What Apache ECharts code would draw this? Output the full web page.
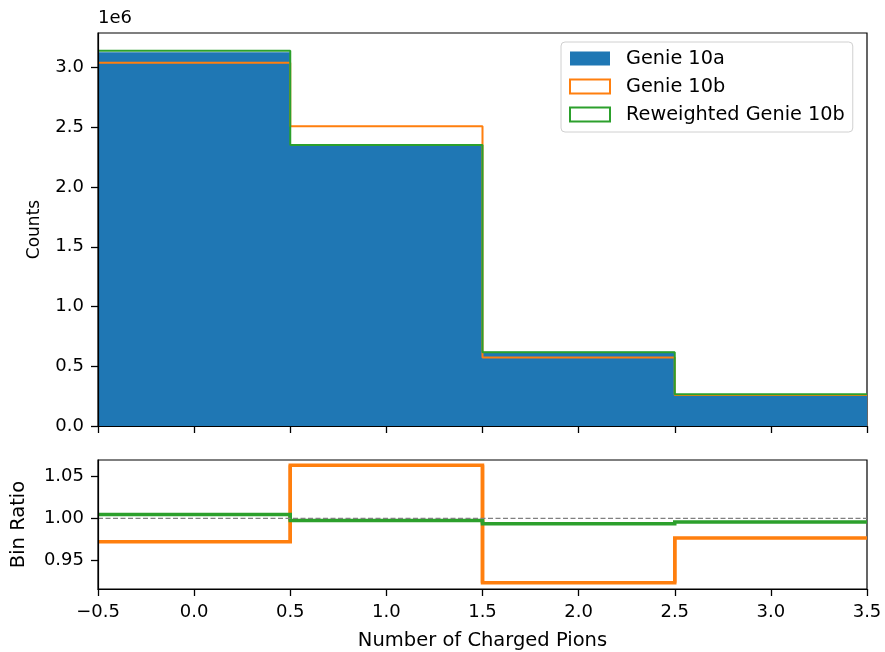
<!DOCTYPE html>
<html>
<head>
<meta charset="utf-8">
<script src="https://cdn.jsdelivr.net/npm/echarts@6/dist/echarts.min.js"></script>
<style>
  html, body { margin: 0; padding: 0; background: #fff; }
  #chart { width: 885px; height: 652px; }
</style>
</head>
<body>
<div id="chart"></div>
<script>
// Bin edges for the charged pion multiplicity histogram
const binEdges = [-0.5, 0.5, 1.5, 2.5, 3.5];
// Event counts per bin
const genie10a = [3.128e6, 2.359e6, 0.621e6, 0.266e6];
const genie10b = [3.040e6, 2.508e6, 0.573e6, 0.260e6];
const reweightedGenie10b = [3.141e6, 2.352e6, 0.617e6, 0.265e6];
// Bin ratios relative to Genie 10a
const ratioGenie10b = [0.972, 1.0635, 0.923, 0.9767];
const ratioReweighted = [1.0047, 0.9976, 0.9936, 0.9956];
// Tick values
const countTicks = [0, 0.5e6, 1.0e6, 1.5e6, 2.0e6, 2.5e6, 3.0e6];
const ratioTicks = [0.95, 1.00, 1.05];
const xTicks = [-0.5, 0.0, 0.5, 1.0, 1.5, 2.0, 2.5, 3.0, 3.5];

const FONT = 'DejaVu Sans';
const BLUE = '#1f77b4', ORANGE = '#ff7f0e', GREEN = '#2ca02c';

// Histogram outline: a flat top over each bin, joined by vertical edges
function stepLine(vals) {
  const pts = [];
  vals.forEach((v, i) => {
    pts.push([binEdges[i], v]);
    pts.push([binEdges[i + 1], v]);
  });
  return pts;
}
// One record per bin: [left edge, right edge, value, previous value, next value]
function binRecords(vals) {
  return vals.map((v, i) => [
    binEdges[i], binEdges[i + 1], v,
    i > 0 ? vals[i - 1] : v,
    i < vals.length - 1 ? vals[i + 1] : v
  ]);
}
// Draws a bin's flat top plus the vertical joins to its neighbours
function stepRenderer(color, width) {
  return function (params, api) {
    const x0 = api.value(0), x1 = api.value(1), y = api.value(2);
    const yPrev = api.value(3), yNext = api.value(4);
    return {
      type: 'polyline',
      shape: { points: [api.coord([x0, yPrev]), api.coord([x0, y]), api.coord([x1, y]), api.coord([x1, yNext])] },
      style: { stroke: color, lineWidth: width, fill: null, lineJoin: 'miter' }
    };
  };
}
const fmtX = v => v.toFixed(1).replace('-', '\u2212');

const chart = echarts.init(document.getElementById('chart'), null, { renderer: 'canvas' });

const makeTick = vals => ({ show: true, length: 7, customValues: vals, lineStyle: { color: '#000', width: 1.3 } });
const makeLabel = (vals, fmt) => ({ show: true, customValues: vals, formatter: fmt, margin: 14, color: '#000', fontSize: 18, fontFamily: FONT });
const makeSpine = () => ({ show: true, onZero: false, lineStyle: { color: '#000', width: 1.2 } });

chart.setOption({
  animation: false,
  backgroundColor: '#fff',
  textStyle: { fontFamily: FONT },
  grid: [
    { left: 98, right: 18, top: 33, height: 393, show: true, borderColor: '#000', borderWidth: 1.2 },
    { left: 98, right: 18, top: 460, height: 130, show: true, borderColor: '#000', borderWidth: 1.2 }
  ],
  xAxis: [
    {
      type: 'value', gridIndex: 0, min: -0.5, max: 3.5, interval: 0.5, z: 5,
      axisLine: makeSpine(), splitLine: { show: false },
      axisTick: makeTick(xTicks), axisLabel: { show: false }
    },
    {
      type: 'value', gridIndex: 1, min: -0.5, max: 3.5, interval: 0.5, z: 5,
      axisLine: makeSpine(), splitLine: { show: false },
      axisTick: makeTick(xTicks), axisLabel: makeLabel(xTicks, fmtX),
      name: 'Number of Charged Pions', nameLocation: 'middle', nameGap: 42,
      nameTextStyle: { color: '#000', fontSize: 19.5, fontFamily: FONT }
    }
  ],
  yAxis: [
    {
      type: 'value', gridIndex: 0, min: 0, max: 3.289e6, z: 5,
      axisLine: makeSpine(), splitLine: { show: false },
      axisTick: makeTick(countTicks), axisLabel: makeLabel(countTicks, v => (v / 1e6).toFixed(1)),
      name: 'Counts', nameLocation: 'middle', nameGap: 55, nameRotate: 90,
      nameTextStyle: { color: '#000', fontSize: 17, fontFamily: FONT }
    },
    {
      type: 'value', gridIndex: 1, min: 0.9156, max: 1.0698, z: 5,
      axisLine: makeSpine(), splitLine: { show: false },
      axisTick: makeTick(ratioTicks), axisLabel: makeLabel(ratioTicks, v => v.toFixed(2)),
      name: 'Bin Ratio', nameLocation: 'middle', nameGap: 69, nameRotate: 90,
      nameTextStyle: { color: '#000', fontSize: 19.5, fontFamily: FONT }
    }
  ],
  legend: {
    orient: 'vertical', left: 561, top: 42,
    padding: [7, 8, 8, 8], itemWidth: 40, itemHeight: 14, itemGap: 9,
    backgroundColor: '#fff', borderColor: '#d0d0d0', borderWidth: 1, borderRadius: 4,
    textStyle: { color: '#000', fontSize: 19.3, fontFamily: FONT, padding: [0, 0, 0, 11] },
    data: [
      { name: 'Genie 10a', icon: 'rect', itemStyle: { color: BLUE, borderWidth: 0 } },
      { name: 'Genie 10b', icon: 'rect', itemStyle: { color: '#fff', borderColor: ORANGE, borderWidth: 2 } },
      { name: 'Reweighted Genie 10b', icon: 'rect', itemStyle: { color: '#fff', borderColor: GREEN, borderWidth: 2 } }
    ]
  },
  graphic: [
    { type: 'text', left: 98, top: 9, style: { text: '1e6', fill: '#000', font: '18px "DejaVu Sans"' } }
  ],
  series: [
    {
      name: 'Genie 10a', type: 'line', xAxisIndex: 0, yAxisIndex: 0, symbol: 'none',
      data: stepLine(genie10a), lineStyle: { width: 0, color: BLUE }, itemStyle: { color: BLUE },
      areaStyle: { color: BLUE, opacity: 1 }, z: 1
    },
    {
      name: 'Genie 10b', type: 'line', xAxisIndex: 0, yAxisIndex: 0, symbol: 'none',
      data: stepLine(genie10b), lineStyle: { width: 2, color: ORANGE }, itemStyle: { color: ORANGE }, z: 2
    },
    {
      name: 'Reweighted Genie 10b', type: 'line', xAxisIndex: 0, yAxisIndex: 0, symbol: 'none',
      data: stepLine(reweightedGenie10b), lineStyle: { width: 2, color: GREEN }, itemStyle: { color: GREEN }, z: 3
    },
    {
      name: 'Genie 10b / Genie 10a', type: 'custom', xAxisIndex: 1, yAxisIndex: 1,
      data: binRecords(ratioGenie10b), encode: { x: [0, 1], y: [2, 3, 4] },
      renderItem: stepRenderer(ORANGE, 3.5), z: 2, silent: true
    },
    {
      name: 'Reweighted / Genie 10a', type: 'custom', xAxisIndex: 1, yAxisIndex: 1,
      data: binRecords(ratioReweighted), encode: { x: [0, 1], y: [2, 3, 4] },
      renderItem: stepRenderer(GREEN, 3.5), z: 3, silent: true
    },
    {
      name: 'Unity', type: 'line', xAxisIndex: 1, yAxisIndex: 1, symbol: 'none',
      data: [[binEdges[0], 1], [binEdges[binEdges.length - 1], 1]],
      lineStyle: { width: 1.2, color: '#808080', type: [5, 2.5] }, z: 4, silent: true
    }
  ]
});
</script>
</body>
</html>
